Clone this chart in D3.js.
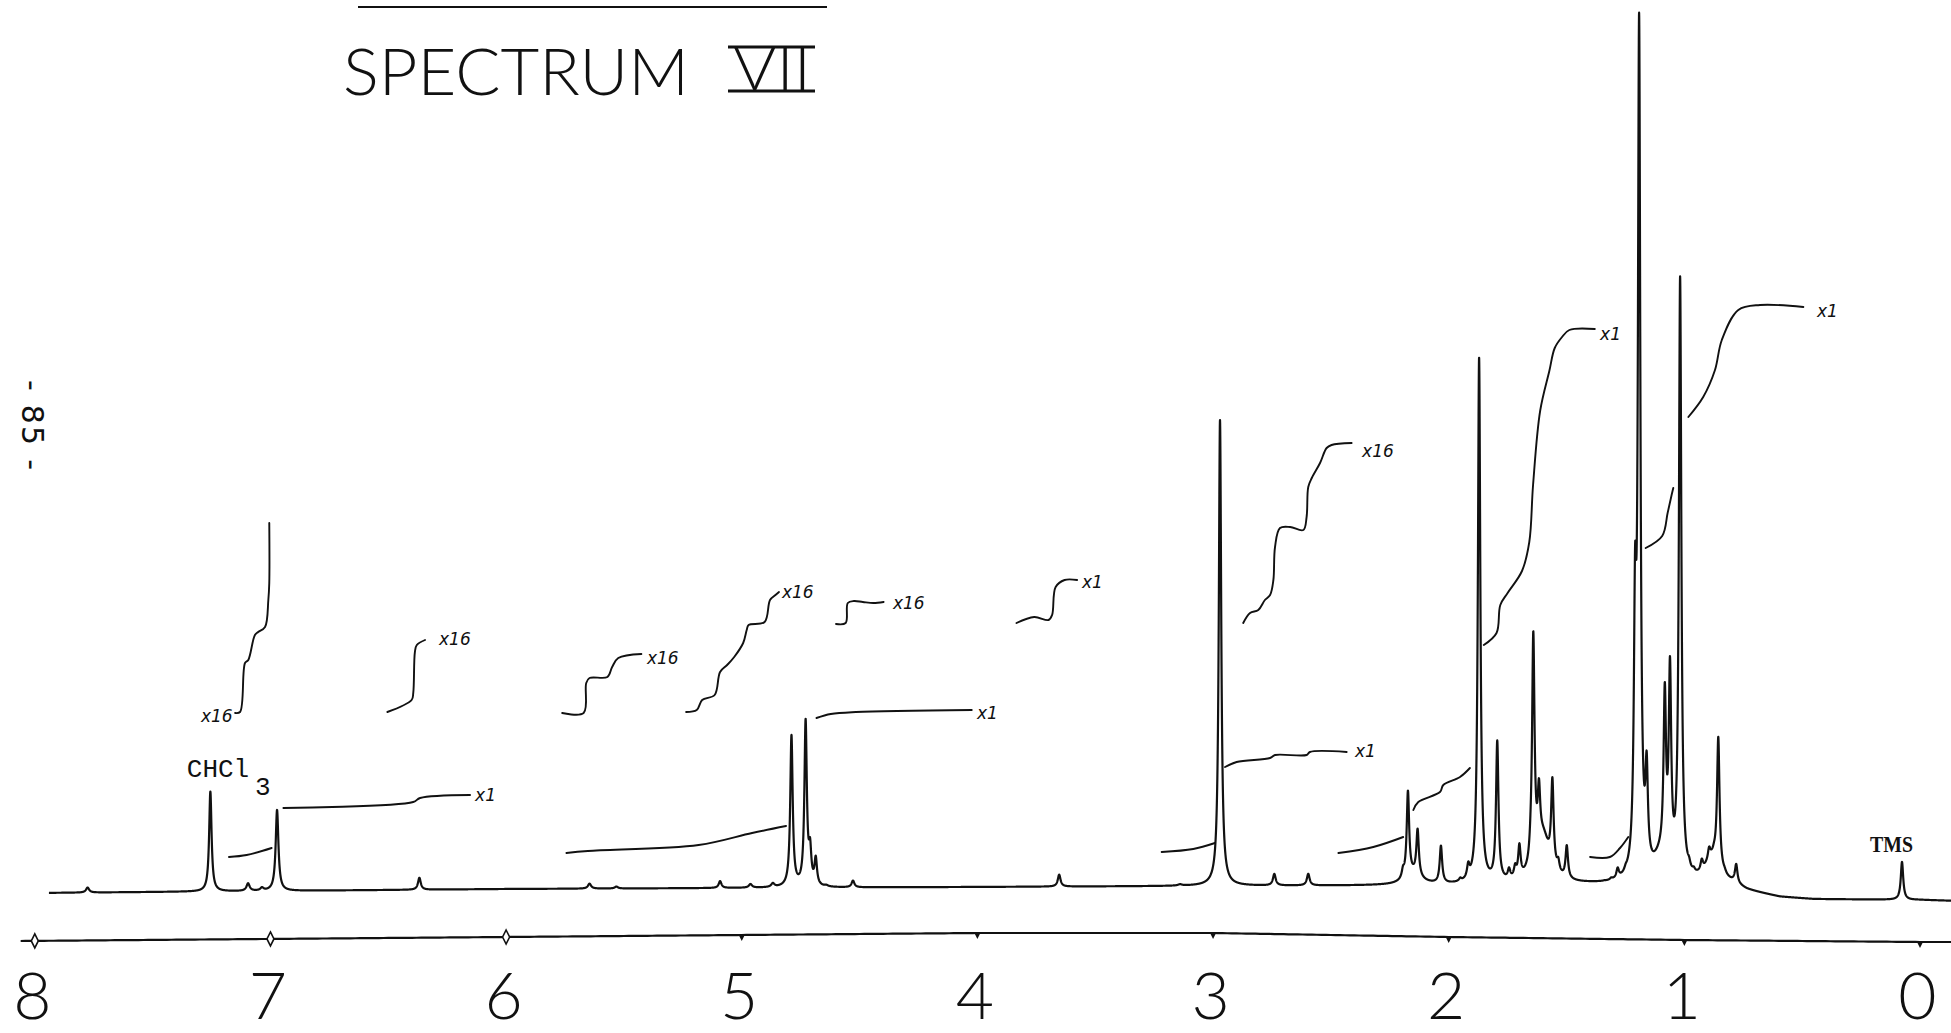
<!DOCTYPE html>
<html><head><meta charset="utf-8">
<script src="https://cdn.jsdelivr.net/npm/d3@7"></script>
<style>html,body{margin:0;padding:0;background:#fff;overflow:hidden}</style>
</head><body>
<svg id="chart" width="1951" height="1033"></svg>
<script>
// ---------------- DATA ----------------
const axisTicks = [8, 7, 6, 5, 4, 3, 2, 1, 0];
const diamondTicks = [8, 7, 6];
// sharp peaks: [ppm, apparent height, optional half-width (ppm)]
const peaks = [
  [7.776, 5, 0.008], [7.255, 100], [7.095, 8, 0.008], [7.036, 4, 0.008], [6.972, 81, 0.007],
  [6.368, 12, 0.007], [5.646, 5, 0.008], [5.532, 2, 0.008], [5.092, 7, 0.007], [4.963, 4, 0.008],
  [4.868, 5, 0.008], [4.789, 153], [4.729, 169], [4.710, 50], [4.686, 32], [4.641, 3, 0.008],
  [4.528, 7, 0.007], [3.653, 12, 0.007], [3.14, 2, 0.01], [3.048, 3, 0.008], [2.9705, 466],
  [2.740, 12, 0.007], [2.596, 12, 0.007], [2.194, 20], [2.173, 95], [2.132, 57], [2.033, 40],
  [1.983, 4], [1.951, 8], [1.917, 24], [1.871, 528], [1.794, 145], [1.744, 18], [1.718, 22],
  [1.700, 42], [1.652, 80], [1.641, 254], [1.617, 107], [1.589, 50], [1.560, 108], [1.535, 28],
  [1.499, 40], [1.379, 4], [1.340, 5], [1.310, 8], [1.283, 18], [1.249, 22], [1.209, 340],
  [1.192, 873], [1.160, 135], [1.083, 204], [1.061, 230], [1.018, 610], [0.980, 30], [0.960, 20],
  [0.926, 28], [0.895, 40], [0.874, 45], [0.856, 150], [0.829, 20], [0.780, 24], [0.0764, 38]
];
// broad humps under multiplets: [ppm, height, half-width]
const broadPeaks = [[1.60, 45, 0.035], [1.10, 22, 0.04], [0.88, 25, 0.04], [2.15, 10, 0.04]];
// baseline drift of the recorder trace: [ppm, offset]
const baselineDrift = [[8.0, 0], [7.0, 2], [6.0, 4], [5.0, 5], [4.0, 6], [3.0, 7], [2.0, 7.5],
  [1.4, 8], [0.79, 6], [0.735, 1.5], [0.594, -4.5], [0.45, -6.5], [0.0, -7], [-0.15, -8]];
// bow of the printed ppm axis line: [ppm, level]
const axisBow = [[8.06, -48], [6, -44], [4, -40], [3, -40], [2, -44], [1, -47], [0, -49], [-0.14, -49]];
// hand-drawn integral traces
const integrals = [
  { label: "x16", anchor: "end", labelAt: [7.152, 171], segments: [
    [[7.150,180],[7.129,181],[7.108,230],[7.094,233],[7.066,258],[7.052,261],[7.023,266],[7.009,293],[7.005,310],[7.005,370]] ] },
  { label: "x16", labelAt: [6.293, 248], segments: [
    [[6.504,181],[6.401,193],[6.394,200],[6.387,241],[6.379,248],[6.344,253]] ] },
  { label: "x1", labelAt: [6.140, 92], segments: [
    [[7.176,36],[7.101,38],[6.995,45]],
    [[6.945,85],[6.394,91],[6.365,95],[6.153,98]] ] },
  { label: "x16", labelAt: [5.411, 229], segments: [
    [[5.762,180],[5.671,180],[5.660,210],[5.646,215],[5.570,216],[5.550,226],[5.524,235],[5.426,239]] ] },
  { label: "x16", labelAt: [4.838, 295], segments: [
    [[5.236,181],[5.191,183],[5.168,193],[5.115,198],[5.092,221],[5.062,228],[5.032,236],[4.994,250],[4.979,263],[4.971,268],[4.903,271],[4.880,293],[4.857,298],[4.842,301]] ] },
  { label: "x16", labelAt: [4.367, 284], segments: [
    [[4.600,269],[4.559,270],[4.550,290],[4.524,292],[4.486,291],[4.441,290],[4.398,291]] ] },
  { label: "x1", labelAt: [4.010, 174], segments: [
    [[5.744,40],[5.653,42],[5.183,48],[4.956,60],[4.812,67]],
    [[4.683,175],[4.622,179],[4.516,181],[4.024,183]] ] },
  { label: "x1", labelAt: [3.565, 305], segments: [
    [[3.834,270],[3.759,276],[3.698,273],[3.683,278],[3.668,306],[3.630,313],[3.577,313]] ] },
  { label: "x16", labelAt: [2.376, 436], segments: [
    [[2.872,270],[2.843,280],[2.808,283],[2.780,293],[2.758,298],[2.744,313],[2.737,346],[2.716,365],[2.673,366],[2.617,363],[2.603,376],[2.596,406],[2.581,415],[2.546,430],[2.518,445],[2.497,448],[2.412,450]] ] },
  { label: "x1", labelAt: [2.406, 136], segments: [
    [[3.218,41],[3.084,44],[2.992,50]],
    [[2.949,126],[2.900,131],[2.758,135],[2.737,138],[2.603,138],[2.589,141],[2.433,141]] ] },
  { label: "x1", labelAt: [1.366, 553], segments: [
    [[2.468,40],[2.320,46],[2.193,56]],
    [[2.150,83],[2.129,91],[2.037,101],[2.023,108],[1.952,116],[1.910,125]],
    [[1.851,248],[1.797,260],[1.781,288],[1.750,300],[1.689,322],[1.658,351],[1.642,408],[1.612,482],[1.573,522],[1.550,545],[1.519,556],[1.488,563],[1.380,564]] ] },
  { label: "x1", labelAt: [0.446, 576], segments: [
    [[1.400,36],[1.316,36],[1.273,45],[1.238,56]],
    [[1.164,345],[1.094,357],[1.071,380],[1.055,397],[1.047,405]],
    [[0.983,476],[0.920,496],[0.870,523],[0.841,553],[0.771,583],[0.679,588],[0.495,586]] ] }
];
const peakLabels = [
  { text: "CHCl", at: [7.355, 116], cls: "mono" },
  { text: "3", at: [7.066, 98], cls: "mono" },
  { text: "TMS", at: [0.212, 41], cls: "serif" }
];
const spectrumRange = [7.94, -0.135];

// ---------------- SCALES ----------------
const svg = d3.select("#chart");
const x = d3.scaleLinear().domain([8, 0]).range([34.8, 1920]);
const y = d3.scaleLinear().domain([0, 880]).range([893, 13]);
const drift = d3.scaleLinear().domain(baselineDrift.map(d => d[0])).range(baselineDrift.map(d => d[1])).clamp(true);
const bow = d3.scaleLinear().domain(axisBow.map(d => d[0])).range(axisBow.map(d => d[1])).clamp(true);

// ---------------- SPECTRUM ----------------
const DEFAULT_HW = 0.0062;
const sharp = peaks.map(p => ({ c: p[0], h: p[1], w: p[2] || DEFAULT_HW, a: p[1] }));
const broad = broadPeaks.map(p => ({ c: p[0], a: p[1], w: p[2] }));
const lor = (p, v) => p.a * p.w * p.w / ((v - p.c) * (v - p.c) + p.w * p.w);
for (let it = 0; it < 60; it++) {
  sharp.forEach(pi => {
    let other = 0;
    sharp.forEach(pj => { if (pj !== pi) other += lor(pj, pi.c); });
    broad.forEach(pb => { other += lor(pb, pi.c); });
    pi.a = Math.max(0, pi.h - other);
  });
}
const all = sharp.concat(broad);
const grid = d3.range(spectrumRange[0], spectrumRange[1], -0.0004);
const spectrum = grid.map(v => {
  let s = drift(v);
  for (const p of all) s += lor(p, v);
  return [v, s];
});

const line = d3.line().x(d => x(d[0])).y(d => y(d[1]));

svg.append("path").datum(spectrum).attr("d", line)
  .attr("fill", "none").attr("stroke", "#111").attr("stroke-width", 2.2)
  .attr("stroke-linejoin", "round");

// ---------------- INTEGRALS ----------------
const ig = svg.append("g");
const intLine = d3.line().x(d => x(d[0])).y(d => y(d[1])).curve(d3.curveCatmullRom.alpha(0.5));
integrals.forEach(intg => {
  intg.segments.forEach(seg => {
    ig.append("path").datum(seg).attr("d", intLine)
      .attr("fill", "none").attr("stroke", "#111").attr("stroke-width", 1.9).attr("stroke-linecap", "round");
  });
  ig.append("text").attr("x", x(intg.labelAt[0]) + (intg.anchor === "end" ? -2 : 2)).attr("y", y(intg.labelAt[1]))
    .attr("text-anchor", intg.anchor || "start")
    .attr("font-family", "'DejaVu Sans', sans-serif").attr("font-style", "italic")
    .attr("font-size", 17).attr("fill", "#111").text(intg.label);
});

// ---------------- PEAK LABELS ----------------
peakLabels.forEach(l => {
  const t = svg.append("text").attr("x", x(l.at[0])).attr("y", y(l.at[1])).attr("fill", "#111").text(l.text);
  if (l.cls === "mono") t.attr("font-family", "'Liberation Mono', 'DejaVu Sans Mono', monospace").attr("font-size", 26);
  else t.attr("font-family", "'Liberation Serif', serif").attr("font-weight", "bold").attr("font-size", 23)
    .attr("textLength", 43).attr("lengthAdjust", "spacingAndGlyphs");
});

// ---------------- PPM AXIS ----------------
const axisPts = d3.range(8.06, -0.15, -0.02).map(v => [v, bow(v)]);
svg.append("path").datum(axisPts).attr("d", line).attr("fill", "none").attr("stroke", "#111").attr("stroke-width", 2.2);
axisTicks.forEach(t => {
  const cx = x(t), cy = y(bow(t));
  if (diamondTicks.includes(t)) {
    svg.append("path").attr("d", `M${cx},${cy - 7}L${cx + 3.5},${cy}L${cx},${cy + 7}L${cx - 3.5},${cy}Z`)
      .attr("fill", "#fff").attr("stroke", "#111").attr("stroke-width", 1.6);
  } else {
    svg.append("path").attr("d", `M${cx - 3},${cy}L${cx + 3},${cy}L${cx},${cy + 6}Z`).attr("fill", "#111");
  }
});
const axisG = svg.append("g").attr("transform", `translate(0,${y(-44)})`)
  .call(d3.axisBottom(x).tickValues(axisTicks).tickSize(0).tickFormat(d3.format("d")));
axisG.select(".domain").remove();
axisG.selectAll("text").attr("y", 82).attr("dy", 0).attr("dx", -3)
  .attr("font-family", "Lato, 'DejaVu Sans', sans-serif").attr("font-weight", 300)
  .attr("font-size", 66).attr("fill", "#111");

// ---------------- TITLE & PAGE MARKS ----------------
svg.append("line").attr("x1", 358).attr("x2", 827).attr("y1", 7).attr("y2", 7).attr("stroke", "#111").attr("stroke-width", 2);
svg.append("text").attr("x", 343).attr("y", 95).attr("font-family", "Lato, 'DejaVu Sans', sans-serif")
  .attr("font-weight", 300).attr("font-size", 65).attr("textLength", 346).attr("lengthAdjust", "spacingAndGlyphs")
  .attr("fill", "#111").text("SPECTRUM");
svg.append("text").attr("x", 733).attr("y", 90).attr("font-family", "Lato, 'DejaVu Sans', sans-serif")
  .attr("font-weight", 300).attr("font-size", 61).attr("textLength", 78).attr("lengthAdjust", "spacingAndGlyphs")
  .attr("fill", "#111").text("VII");
[47, 91].forEach(yy => svg.append("line").attr("x1", 728).attr("x2", 815).attr("y1", yy).attr("y2", yy)
  .attr("stroke", "#111").attr("stroke-width", 3));
svg.append("text").attr("transform", "translate(32,425) rotate(90)").attr("text-anchor", "middle")
  .attr("dominant-baseline", "central").attr("font-family", "'DejaVu Sans', sans-serif").attr("font-size", 30)
  .attr("textLength", 90).attr("lengthAdjust", "spacing").attr("fill", "#111").text("- 85 -");
</script>
</body></html>
